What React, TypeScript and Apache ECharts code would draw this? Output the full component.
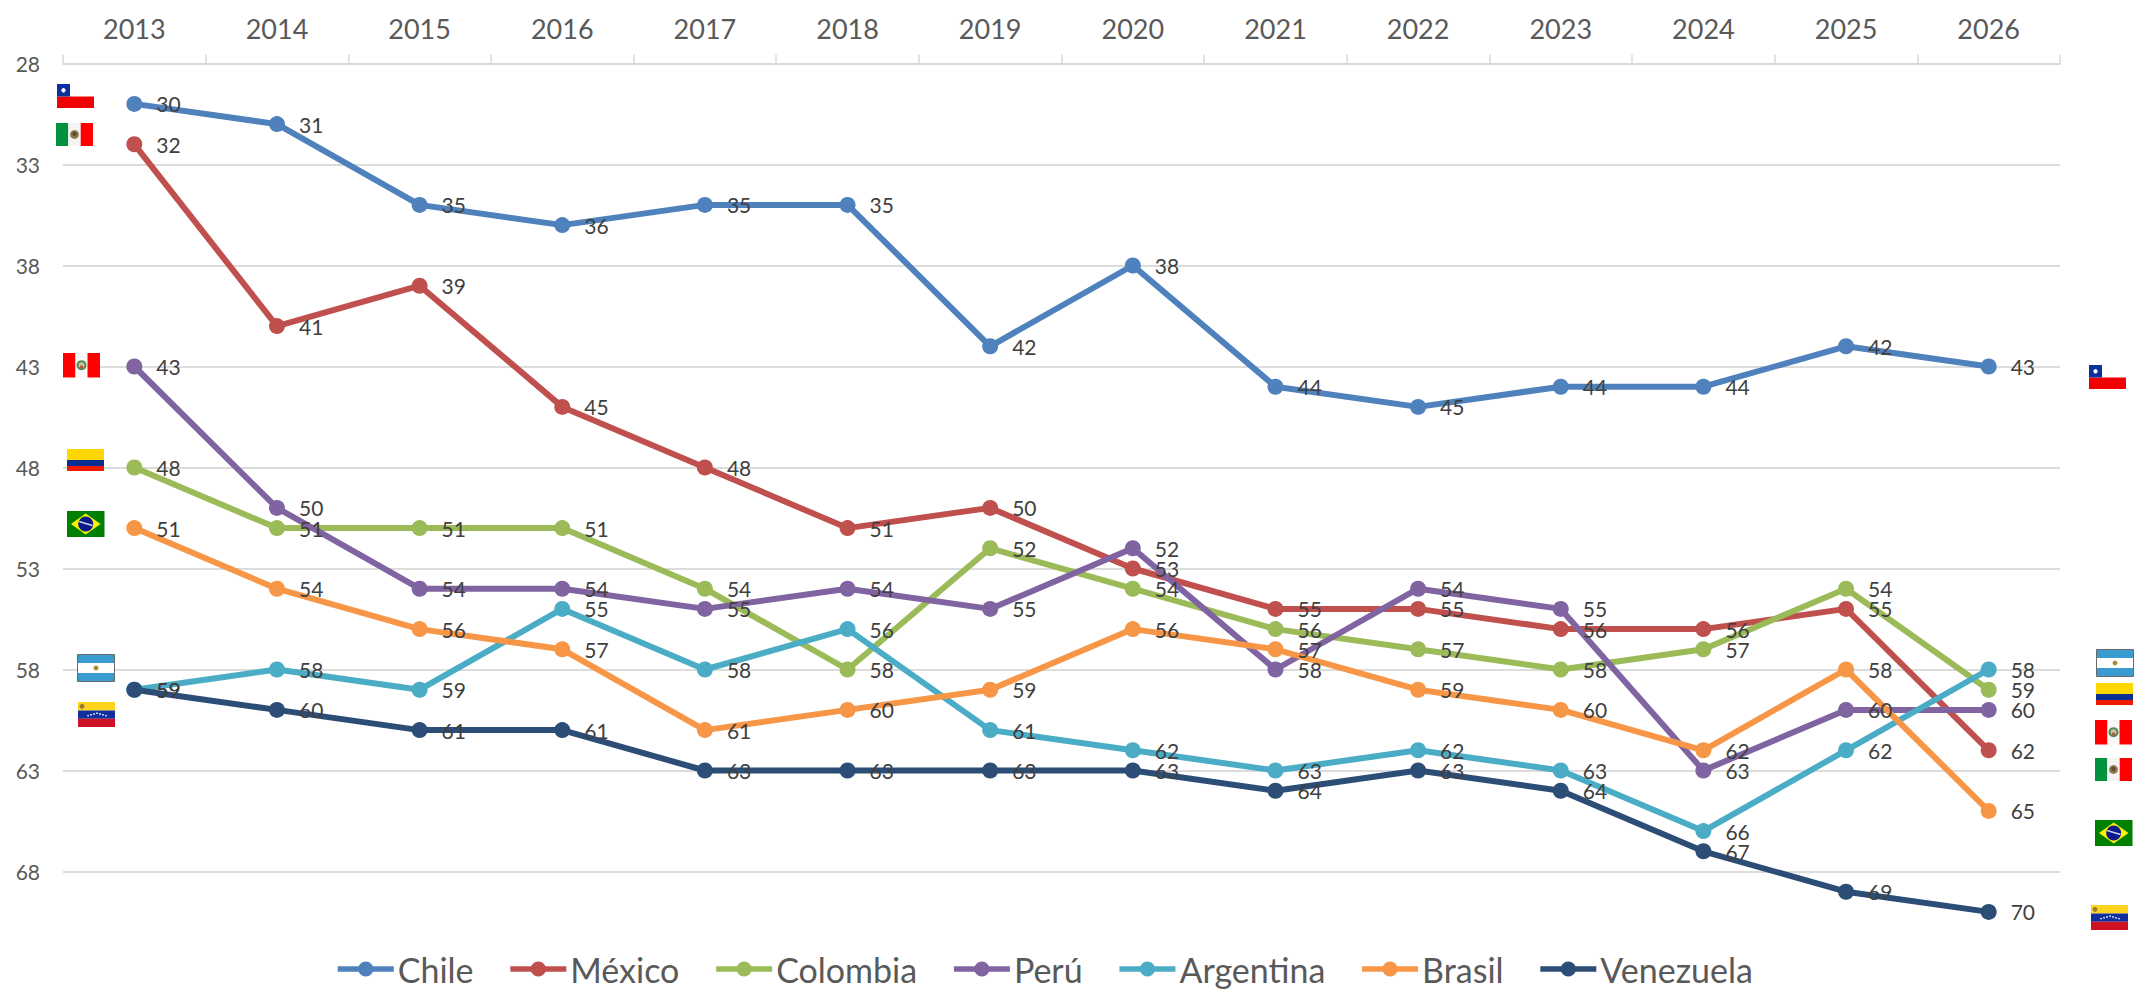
import React, { useEffect, useRef } from "react";
import * as echarts from "echarts";

const years = ["2013","2014","2015","2016","2017","2018","2019","2020","2021","2022","2023","2024","2025","2026"];
const chile = [30,31,35,36,35,35,42,38,44,45,44,44,42,43];
const mexico = [32,41,39,45,48,51,50,53,55,55,56,56,55,62];
const colombia = [48,51,51,51,54,58,52,54,56,57,58,57,54,59];
const peru = [43,50,54,54,55,54,55,52,58,54,55,63,60,60];
const argentina = [59,58,59,55,58,56,61,62,63,62,63,66,62,58];
const brasil = [51,54,56,57,61,60,59,56,57,59,60,62,58,65];
const venezuela = [59,60,61,61,63,63,63,63,64,63,64,67,69,70];
const yTicks = [28,33,38,43,48,53,58,63,68];
const seriesDefs = [
  { name: "Chile", data: chile, color: "#4F81BD" },
  { name: "México", data: mexico, color: "#C0504D" },
  { name: "Colombia", data: colombia, color: "#9BBB59" },
  { name: "Perú", data: peru, color: "#8064A2" },
  { name: "Argentina", data: argentina, color: "#4BACC6" },
  { name: "Brasil", data: brasil, color: "#F79646" },
  { name: "Venezuela", data: venezuela, color: "#2C4D75" },
];

const FONT = "Lato";
const Z = 50;
const rect = (x: number, y: number, width: number, height: number, fill: string, extra: any = {}) => ({
  type: "rect", z: Z, shape: { x, y, width, height }, style: { fill, ...extra }, silent: true,
});
const dot = (cx: number, cy: number, r: number, fill: string) => ({
  type: "circle", z: Z, shape: { cx, cy, r }, style: { fill }, silent: true,
});
const at = (x: number, y: number, children: any[]) => ({ type: "group", x, y, children, silent: true });

const chileFlag = (x: number, y: number) => at(x, y, [
  rect(0, 0, 37, 12.5, "#FFFFFF"),
  rect(0, 12.5, 37, 11.5, "#F00000"),
  rect(0, 0, 13, 12.5, "#0A2FA0"),
  dot(6.5, 6.3, 2.2, "#FFFFFF"),
]);
const mexicoFlag = (x: number, y: number) => at(x, y, [
  rect(0, 0, 12.3, 23, "#00923F"),
  rect(12.3, 0, 12.4, 23, "#F4F4F4"),
  rect(24.7, 0, 12.3, 23, "#FF0000"),
  dot(18.5, 11.5, 4.4, "#8A7A50"),
  dot(18.5, 11, 2.2, "#6B4A2A"),
]);
const colombiaFlag = (x: number, y: number) => at(x, y, [
  rect(0, 0, 37, 11, "#FFD700"),
  rect(0, 11, 37, 6, "#0A2F94"),
  rect(0, 17, 37, 5, "#F01A00"),
]);
const brasilFlag = (x: number, y: number) => at(x, y, [
  rect(0, 0, 37.5, 26, "#008000"),
  { type: "polygon", z: Z, shape: { points: [[4, 13], [18.7, 2.5], [33.5, 13], [18.7, 23.5]] }, style: { fill: "#FFF200" }, silent: true },
  dot(18.7, 13, 7.5, "#0A1A8C"),
  { type: "line", z: Z, shape: { x1: 12, y1: 10.5, x2: 25.5, y2: 14.5 }, style: { stroke: "#C8D4E8", lineWidth: 1.4 }, silent: true },
]);
const argentinaFlag = (x: number, y: number) => at(x, y, [
  rect(0.5, 0.5, 37, 27, "#FFFFFF", { stroke: "#6A6A6A", lineWidth: 1 }),
  rect(1, 1, 36, 8, "#3A9BD0"),
  rect(1, 19, 36, 8, "#3A9BD0"),
  dot(19, 14, 2.4, "#A88A2E"),
]);
const venezuelaFlag = (x: number, y: number) => at(x, y, [
  rect(0, 0, 37, 8.5, "#FFD41E"),
  rect(0, 8.5, 37, 8.3, "#0F2F9E"),
  rect(0, 16.8, 37, 8.2, "#CF1126"),
  dot(4, 4.3, 2.5, "#9A7B3A"),
  ...[10, 13, 16, 19, 22, 25, 28].map((px, i) => dot(px, 13.6 - (3 - Math.abs(i - 3)) * 0.8, 0.8, "#FFFFFF")),
]);
const peruFlag = (x: number, y: number) => at(x, y, [
  rect(0, 0, 12.5, 24.5, "#FF0000"),
  rect(12.5, 0, 12, 24.5, "#F8F8F8"),
  rect(24.5, 0, 12.5, 24.5, "#FF0000"),
  dot(18.5, 12.2, 5, "#4F8A4F"),
  dot(18.5, 12.2, 3, "#C9C2A8"),
  dot(18.5, 14, 1.6, "#C0503A"),
]);

export default function App() {
  const ref = useRef<HTMLDivElement>(null);
  useEffect(() => {
    const chart = echarts.init(ref.current!, undefined, { renderer: "svg" });
    chart.setOption({
      animation: false,
      backgroundColor: "#FFFFFF",
      textStyle: { fontFamily: FONT },
      grid: { left: 63, right: 79, top: 63.5, height: 888.8, containLabel: false },
      legend: {
        left: 335, top: 952, padding: 0, itemWidth: 56, itemHeight: 19, itemGap: 34,
        lineStyle: { width: 5.5 },
        textStyle: { fontFamily: FONT, fontSize: 34, color: "#595959", padding: [0, 0, 0, -1] },
        data: seriesDefs.map((s) => s.name),
      },
      xAxis: {
        type: "category", position: "top", data: years, boundaryGap: true,
        axisLine: { show: true, lineStyle: { color: "#D9D9D9", width: 2 } },
        axisTick: { show: true, length: 9, lineStyle: { color: "#D9D9D9", width: 1.5 } },
        axisLabel: { fontFamily: FONT, fontSize: 27, color: "#595959", margin: 22 },
        splitLine: { show: false },
      },
      yAxis: {
        type: "value", inverse: true, min: 28, max: 72,
        axisLine: { show: false },
        axisTick: { show: false, customValues: yTicks },
        axisLabel: { fontFamily: FONT, fontSize: 21, color: "#595959", margin: 23, customValues: yTicks },
        splitLine: { show: true, lineStyle: { color: "#DCDCDC", width: 2 } },
      },
      series: seriesDefs.map((s) => ({
        name: s.name, type: "line", data: s.data, smooth: false,
        symbol: "circle", symbolSize: 16,
        lineStyle: { color: s.color, width: 6 },
        itemStyle: { color: s.color },
        label: { show: true, position: "right", distance: 14, fontFamily: FONT, fontSize: 21, color: "#404040" },
        labelLayout: { hideOverlap: false },
      })),
      graphic: { elements: [
        chileFlag(57, 84), mexicoFlag(56, 123), peruFlag(63, 353), colombiaFlag(67, 449),
        brasilFlag(67, 511), argentinaFlag(77, 654), venezuelaFlag(78, 702),
        chileFlag(2089, 365), argentinaFlag(2096, 649), colombiaFlag(2096, 683), peruFlag(2095, 720),
        mexicoFlag(2095, 758), brasilFlag(2095, 820), venezuelaFlag(2091, 905),
      ] },
    });
    return () => chart.dispose();
  }, []);
  return <div ref={ref} style={{ position: "fixed", left: 0, top: 0, width: 2139, height: 989 }} />;
}
